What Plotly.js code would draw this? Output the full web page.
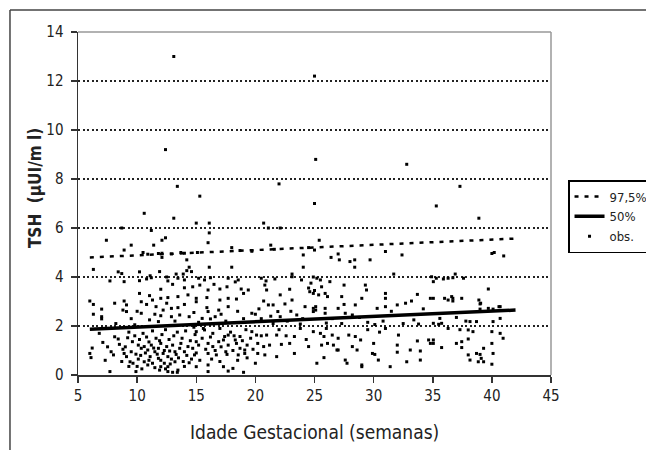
<!DOCTYPE html>
<html>
<head>
<meta charset="utf-8">
<script src="https://cdn.plot.ly/plotly-3.0.1.min.js"></script>
<style>html,body{margin:0;padding:0;background:#fff;}#chart{width:646px;height:450px;}</style>
</head>
<body>
<div id="chart"></div>
<script>
const obsWeeks = [
13.1,25.0,12.4,25.1,32.8,13.4,22.0,37.3,15.3,25.0,35.3,10.6,13.1,38.9,15.0,16.1,20.7,16.1,21.1,22.1,
8.7,11.2,12.4,12.1,7.4,16.0,25.4,9.5,11.4,8.9,10.5,10.9,11.8,12.1,12.1,12.9,13.7,14.0,15.1,18.0,
18.7,19.7,21.3,21.6,24.5,25.0,24.05,24.05,26.4,27.0,27.1,28.0,28.4,28.4,29.7,31.0,32.4,40.0,40.2,41.0,
14.2,14.4,14.2,14.6,16.1,18.0,6.3,8.4,8.7,10.2,11.9,13.3,13.9,23.1,31.7,
7.7,8.9,10.2,10.8,11.1,11.2,12.5,12.6,13.45,14.0,15.2,15.7,16.2,17.7,18.55,20.5,20.9,21.65,23.1,23.9,
25.5,26.3,34.9,35.05,35.3,35.9,36.3,36.7,36.9,37.6,24.9,25.2,
12.0,14.0,14.7,10.2,11.05,12.0,12.6,13.45,14.3,15.3,16.0,17.0,17.6,18.8,19.4,20.8,20.95,22.1,15.0,15.9,
17.0,17.7,18.4,19.0,20.7,23.1,25.6,27.5,29.3,29.4,24.9,25.35,25.9,26.1,27.3,29.0,31.0,31.0,33.2,33.7,
34.8,39.7,35.05,36.0,36.3,36.6,36.7,37.45,38.9,39.05,6.0,8.9,10.35,11.3,15.0,24.5,24.6,25.0,16.5,13.0,
18.3,22.9,24.7,
6.3,8.1,9.1,10.8,11.6,12.5,12.9,13.45,14.0,7.0,6.3,8.8,9.1,7.0,7.0,10.35,11.5,12.0,12.9,13.6,
14.4,11.8,11.05,13.2,21.1,21.5,24.2,24.9,15.9,16.0,16.9,17.1,17.7,16.6,15.5,16.2,19.7,20.0,21.9,22.1,
25.1,25.1,25.9,27.0,27.5,28.45,30.3,31.0,32.0,32.7,24.9,25.9,27.6,28.2,39.0,40.1,40.7,39.7,35.6,35.05,
35.5,35.75,38.15,38.7,40.1,40.7,36.7,39.0,40.6,9.5,10.0,12.2,14.8,18.5,19.0,20.5,22.7,23.5,26.5,28.8,
30.8,31.5,33.4,34.2,37.0,37.8,29.5,27.3,32.5,33.8,26.0,30.1,17.5,15.2,8.2,9.8,21.5,23.8,20.3,22.5,
23.0,24.0,21.3,
8.1,8.4,9.2,9.6,7.1,10.1,10.35,10.6,10.9,11.2,11.5,11.8,12.0,12.2,12.5,12.75,13.0,13.3,13.6,13.7,
14.0,14.3,14.7,14.85,15.0,7.8,8.0,8.9,9.1,9.4,9.65,10.1,10.6,10.9,11.3,11.8,12.0,12.3,12.6,13.2,
13.45,6.0,6.1,7.7,9.9,12.6,13.0,13.4,
9.3,9.8,10.2,10.5,10.8,11.0,11.3,11.6,11.9,12.1,12.4,12.7,13.1,13.4,13.8,14.1,14.5,14.9,9.0,9.5,
9.9,10.3,10.7,11.1,11.4,11.7,12.0,12.3,12.6,12.9,13.2,13.5,13.9,14.2,14.6,15.0,10.0,10.4,11.0,11.5,
11.9,12.4,12.8,14.0,14.4,7.5,8.5,8.8,9.3,8.7,6.2,6.8,7.3,
15.0,15.7,16.4,17.0,17.4,17.7,18.3,18.7,19.7,20.1,20.5,20.95,21.8,22.6,23.3,15.2,16.0,16.4,16.9,17.3,
17.7,18.4,18.7,19.1,19.1,19.3,20.2,20.7,21.2,22.2,22.9,24.5,16.0,16.7,17.6,18.55,20.2,20.8,21.8,23.3,
15.0,16.0,17.3,18.1,19.0,20.0,16.0,17.7,
15.5,15.8,16.2,16.6,17.1,17.5,17.9,18.1,18.5,18.9,19.3,19.6,15.3,16.3,17.0,19.8,19.2,18.2,15.6,14.8,
24.9,25.5,25.8,26.5,27.0,27.9,28.45,28.9,32.1,34.65,34.8,25.6,26.1,26.6,27.0,28.2,28.6,30.0,29.9,30.1,
32.0,33.7,33.95,33.1,25.2,25.8,26.9,27.6,27.75,29.0,29.0,30.4,31.4,32.0,32.8,33.95,29.5,31.0,30.5,26.0,
23.8,22.0,24.3,
38.0,38.4,40.0,40.7,40.95,35.05,35.05,37.0,37.45,38.0,35.75,37.45,40.0,39.3,40.1,38.0,38.7,39.0,39.1,38.15,
38.85,39.3,40.0,36.3,37.3
];
const obsTSH = [
13.0,12.2,9.2,8.8,8.6,7.7,7.8,7.7,7.3,7.0,6.9,6.6,6.4,6.4,6.2,6.2,6.2,5.8,6.0,6.0,
6.0,5.9,5.6,5.5,5.5,5.4,5.5,5.3,5.3,5.1,5.0,4.93,4.96,4.97,4.8,4.94,5.0,4.97,5.0,5.2,
5.08,5.05,5.3,5.13,5.2,5.1,4.9,4.4,4.8,4.94,4.7,4.63,4.7,4.4,4.7,5.04,4.9,4.96,5.0,4.86,
4.7,4.4,4.26,4.22,4.4,4.4,4.31,4.21,4.14,4.21,4.22,4.12,4.12,4.12,4.12,
3.84,3.81,3.85,3.92,4.05,3.97,4.0,3.84,3.95,3.88,3.95,3.88,3.97,3.95,3.88,3.95,3.84,3.92,4.01,3.88,
3.88,3.81,4.01,3.81,3.95,3.92,3.95,3.97,4.12,3.95,4.0,3.95,
3.5,3.56,3.6,3.33,3.24,3.13,3.16,3.2,3.27,3.67,3.47,3.51,3.6,3.51,3.47,3.67,3.47,3.27,3.13,3.16,
3.06,3.13,3.1,3.33,3.02,3.06,3.6,3.67,3.67,3.47,3.33,3.27,3.33,3.2,3.2,3.13,3.33,3.13,3.02,3.29,
3.13,3.51,3.13,3.13,3.06,3.2,3.13,3.13,3.06,2.93,3.02,3.02,2.99,3.06,2.99,3.55,3.4,3.45,3.7,3.7,
3.8,3.5,3.75,
2.88,2.93,2.86,2.88,2.79,2.93,2.72,2.75,2.88,2.69,2.48,2.65,2.59,2.38,2.29,2.52,2.48,2.42,2.38,2.45,
2.38,2.18,2.25,2.2,2.86,2.86,2.79,2.72,2.75,2.59,2.65,2.48,2.79,2.38,2.31,2.29,2.52,2.48,2.59,2.38,
2.79,2.65,2.72,2.72,2.88,2.86,2.72,2.79,2.86,2.93,2.59,2.52,2.52,2.45,2.69,2.69,2.79,2.72,2.31,2.11,
2.07,2.11,2.18,2.18,2.18,2.31,3.02,2.9,2.79,2.3,2.6,2.65,2.55,2.6,2.3,2.3,2.2,2.45,2.3,2.35,
2.2,2.6,2.25,2.7,2.35,2.2,2.15,2.1,2.1,2.08,2.12,2.06,2.2,2.15,2.1,2.05,2.1,2.08,2.7,2.9,
2.6,2.3,2.4,
1.56,1.47,1.52,1.36,1.33,1.22,1.09,1.16,1.02,1.22,0.95,1.09,1.29,0.88,1.16,0.98,1.22,0.84,1.09,1.29,
0.95,1.16,1.09,0.82,1.36,0.95,0.82,0.88,0.75,0.54,0.48,0.65,0.54,0.41,0.48,0.68,0.34,0.48,0.34,0.54,
0.2,0.88,0.71,0.14,0.14,0.14,0.11,0.11,
1.75,1.6,1.45,1.7,1.55,1.35,1.8,1.5,1.4,1.65,1.85,1.45,1.6,1.75,1.5,1.8,1.4,1.65,1.15,0.95,
0.85,0.8,0.9,0.75,1.1,0.85,0.6,1.0,0.75,0.65,0.95,0.7,0.55,0.8,0.65,0.9,0.35,0.25,0.6,0.3,
0.2,0.25,0.45,0.35,0.5,1.15,1.25,1.05,0.35,0.55,1.1,1.7,0.6,
1.77,1.84,1.7,1.9,1.57,1.63,1.43,1.57,1.77,1.63,1.6,1.63,1.63,1.6,1.57,1.22,1.29,1.16,1.36,1.43,
1.22,1.29,1.09,1.02,0.88,1.22,1.29,1.16,1.22,1.25,1.29,1.16,0.88,0.82,0.84,0.82,0.88,0.82,0.75,0.88,
0.34,0.41,0.34,0.27,0.11,0.48,0.14,0.16,
1.5,1.05,1.55,1.0,1.15,0.95,1.75,1.0,0.6,1.4,0.7,1.5,0.6,0.65,0.55,1.05,1.85,1.6,1.9,1.95,
1.77,1.7,1.57,1.63,1.5,1.63,1.57,1.43,1.63,1.43,1.29,1.22,1.29,1.22,1.02,1.16,1.02,1.29,0.88,0.84,
1.22,1.39,0.98,1.02,0.48,0.71,1.02,0.61,0.48,0.41,0.34,0.61,0.34,0.93,0.54,0.61,1.85,1.9,1.75,1.9,
1.9,1.85,1.45,
1.84,1.77,1.77,1.7,1.5,1.43,1.29,1.29,1.36,1.47,1.12,1.12,1.29,1.09,0.88,0.82,0.88,0.84,0.68,0.61,
0.54,0.54,0.44,1.9,1.85
];
// Percentile reference lines (start and end of the fitted lines)
const lineWeeks = [6, 42];
const p975 = [4.8, 5.57];
const p50 = [1.87, 2.65];
const xTicks = [5, 10, 15, 20, 25, 30, 35, 40, 45];
const yTicks = [0, 2, 4, 6, 8, 10, 12, 14];

const FONT = 'Liberation Sans Narrow, Arial Narrow, DejaVu Sans Condensed, sans-serif';

const traces = [
  {x: obsWeeks, y: obsTSH, name: 'obs.', type: 'scatter', mode: 'markers',
   marker: {color: '#000', size: 3, symbol: 'square'}, legendrank: 3, cliponaxis: true},
  {x: lineWeeks, y: p975, name: '97,5%', type: 'scatter', mode: 'lines',
   line: {color: '#000', width: 2.5, dash: '4px,6px'}, legendrank: 1},
  {x: lineWeeks, y: p50, name: '50%', type: 'scatter', mode: 'lines',
   line: {color: '#000', width: 3.5}, legendrank: 2}
];

const layout = {
  width: 646, height: 450,
  margin: {l: 78, r: 95, t: 32, b: 75, autoexpand: false},
  paper_bgcolor: '#fff', plot_bgcolor: '#fff',
  font: {family: FONT, size: 14, color: '#222'},
  showlegend: true,
  legend: {x: 1.036, y: 0.5685, xanchor: 'left', yanchor: 'top',
           bordercolor: '#000', borderwidth: 1.5, bgcolor: '#fff',
           font: {family: FONT, size: 13, color: '#222'}, itemwidth: 30, tracegroupgap: 0},
  xaxis: {range: [5, 45], tickvals: xTicks, ticks: 'outside', ticklen: 6, tickcolor: '#333', tickwidth: 1.5,
          showline: true, linecolor: '#333', linewidth: 1.5, showgrid: false, zeroline: false,
          tickfont: {family: FONT, size: 15, color: '#222'}, fixedrange: true},
  yaxis: {range: [0, 14], tickvals: yTicks, ticks: 'outside', ticklen: 6, tickcolor: '#333', tickwidth: 1.5,
          showline: true, linecolor: '#333', linewidth: 1.5, zeroline: false,
          showgrid: true, gridcolor: '#222', gridwidth: 1.5, griddash: '2px,2.5px',
          ticklabelstandoff: 4,
          tickfont: {family: FONT, size: 15, color: '#222'}, fixedrange: true},
  shapes: [
    {type: 'line', xref: 'paper', yref: 'paper', x0: 0, x1: 1, y0: 1, y1: 1, line: {color: '#999', width: 1.5}, layer: 'above'},
    {type: 'line', xref: 'paper', yref: 'paper', x0: 1, x1: 1, y0: 0, y1: 1, line: {color: '#999', width: 1.5}, layer: 'above'},
    {type: 'line', xref: 'paper', yref: 'paper', x0: -0.1438, x1: 1.3, y0: 1.0641, y1: 1.0641, line: {color: '#444', width: 1.5}},
    {type: 'line', xref: 'paper', yref: 'paper', x0: -0.1438, x1: -0.1438, y0: -0.3, y1: 1.0641, line: {color: '#444', width: 1.5}}
  ],
  annotations: [
    {text: 'Idade Gestacional (semanas)', xref: 'paper', yref: 'paper', x: 0.501, y: -0.166,
     xanchor: 'center', yanchor: 'middle', showarrow: false, font: {family: FONT, size: 19, color: '#222'}},
    {text: '<b>TSH  (µUI/m l)</b>', xref: 'paper', yref: 'paper', x: -0.0909, y: 0.545,
     xanchor: 'center', yanchor: 'middle', textangle: -90, showarrow: false, font: {family: FONT, size: 17, color: '#222'}}
  ]
};

Plotly.newPlot('chart', traces, layout, {displayModeBar: false, staticPlot: true});
</script>
</body>
</html>
